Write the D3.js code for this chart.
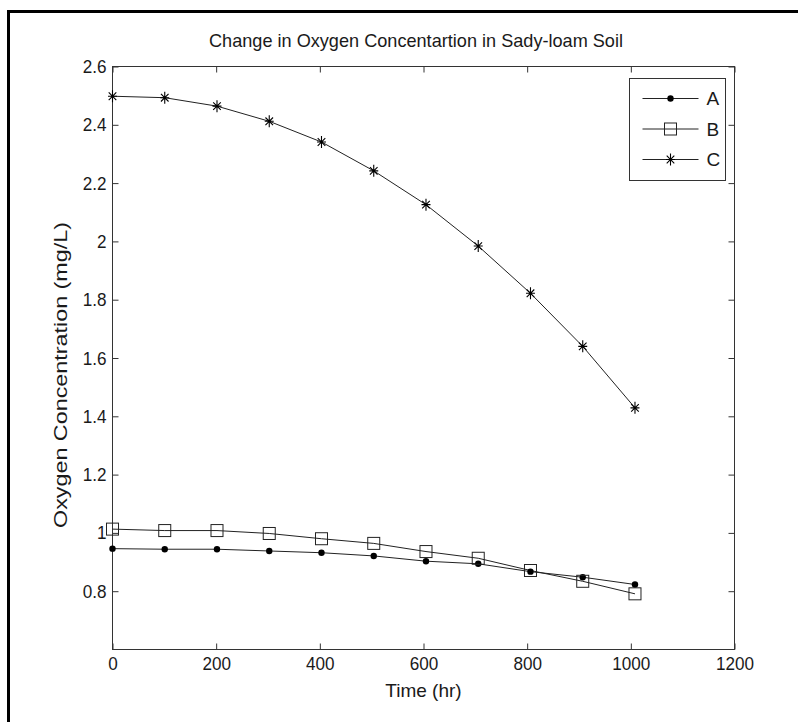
<!DOCTYPE html>
<html>
<head>
<meta charset="utf-8">
<script src="https://cdn.jsdelivr.net/npm/d3@7"></script>
<style>
  body { margin: 0; background: #fff; }
  text { font-family: "Liberation Sans", Arial, sans-serif; fill: #1a1a1a; }
</style>
</head>
<body>
<script>
// readings
var hours = [0, 100.8, 201.6, 302.4, 403.2, 504, 604.8, 705.6, 806.4, 907.2, 1008];
var soilA = [0.946, 0.944, 0.944, 0.938, 0.932, 0.921, 0.903, 0.894, 0.867, 0.848, 0.823];
var soilB = [1.013, 1.008, 1.008, 0.998, 0.980, 0.964, 0.936, 0.913, 0.871, 0.834, 0.791];
var soilC = [2.498, 2.493, 2.464, 2.412, 2.341, 2.242, 2.126, 1.984, 1.822, 1.640, 1.429];
var seriesNames = ["A", "B", "C"];
var xTicks = [0, 200, 400, 600, 800, 1000, 1200];
var yTicks = [0.8, 1, 1.2, 1.4, 1.6, 1.8, 2, 2.2, 2.4, 2.6];

var width = 798,
    height = 722;

var svg = d3.select("body").append("svg")
    .attr("width", width)
    .attr("height", height);

// frame of the pasted figure (only top and left show)
svg.append("path")
    .attr("d", "M8.5,722V11.5H798")
    .attr("fill", "none")
    .attr("stroke", "#000")
    .attr("stroke-width", 3);

var x = d3.scaleLinear().domain([0, 1200]).range([112.5, 734.5]);
var y = d3.scaleLinear().domain([0.6, 2.6]).range([649.5, 66.5]);

// squeeze text a bit, the original font is narrow
function squeeze(sel, k) {
  sel.each(function() {
    var w = this.getComputedTextLength();
    d3.select(this).attr("textLength", w * k).attr("lengthAdjust", "spacingAndGlyphs");
  });
}

var fmt = function(d) { return String(+d.toFixed(1)); };

var gx = svg.append("g")
    .attr("transform", "translate(0," + y(0.6) + ")")
    .call(d3.axisBottom(x).tickValues(xTicks).tickSize(-6).tickPadding(7).tickFormat(fmt));
var gxTop = svg.append("g")
    .attr("transform", "translate(0," + y(2.6) + ")")
    .call(d3.axisTop(x).tickValues(xTicks).tickSize(-6).tickFormat(""));
var gy = svg.append("g")
    .attr("transform", "translate(" + x(0) + ",0)")
    .call(d3.axisLeft(y).tickValues(yTicks).tickSize(-6).tickPadding(6).tickFormat(fmt));
var gyRight = svg.append("g")
    .attr("transform", "translate(" + x(1200) + ",0)")
    .call(d3.axisRight(y).tickValues(yTicks).tickSize(-6).tickFormat(""));

[gx, gxTop, gy, gyRight].forEach(function(g) {
  g.select(".domain").attr("stroke", "#333").attr("d", null);
  g.selectAll(".tick line").attr("stroke", "#333");
  g.selectAll("text").attr("font-family", null).attr("font-size", 19).attr("fill", "#1a1a1a");
});

svg.append("rect")
    .attr("x", x(0))
    .attr("y", y(2.6))
    .attr("width", x(1200) - x(0))
    .attr("height", y(0.6) - y(2.6))
    .attr("fill", "none")
    .attr("stroke", "#333");

squeeze(gx.selectAll("text"), 0.9);
squeeze(gy.selectAll("text"), 0.9);

// title and labels
svg.append("text")
    .attr("x", 416)
    .attr("y", 47)
    .attr("text-anchor", "middle")
    .attr("font-size", 19)
    .attr("textLength", 414)
    .attr("lengthAdjust", "spacingAndGlyphs")
    .text("Change in Oxygen Concentartion in Sady-loam Soil");

svg.append("text")
    .attr("x", x(600))
    .attr("y", 697)
    .attr("text-anchor", "middle")
    .attr("font-size", 19)
    .text("Time (hr)");

svg.append("text")
    .attr("transform", "translate(67,375) rotate(-90)")
    .attr("text-anchor", "middle")
    .attr("font-size", 19)
    .attr("textLength", 306)
    .attr("lengthAdjust", "spacingAndGlyphs")
    .text("Oxygen Concentration (mg/L)");

var line = d3.line()
    .x(function(d) { return x(d[0]); })
    .y(function(d) { return y(d[1]); });

var series = [soilA, soilB, soilC].map(function(vals) {
  return vals.map(function(v, i) { return [hours[i], v]; });
});

svg.selectAll(".series")
    .data(series).enter()
    .append("path")
    .attr("class", "series")
    .attr("d", line)
    .attr("fill", "none")
    .attr("stroke", "#222")
    .attr("stroke-width", 1);

// markers
function drawMarker(g, kind) {
  if (kind == 0) {
    g.append("circle").attr("r", 3.2).attr("fill", "#000");
  } else if (kind == 1) {
    g.append("rect")
      .attr("x", -6).attr("y", -6)
      .attr("width", 12).attr("height", 12)
      .attr("fill", "none").attr("stroke", "#222");
  } else {
    g.append("path")
      .attr("d", "M0,-6V6M-4.5,0H4.5M-3.8,-3.8L3.8,3.8M-3.8,3.8L3.8,-3.8")
      .attr("stroke", "#000").attr("stroke-width", 1.1).attr("fill", "none");
  }
}

series.forEach(function(pts, k) {
  svg.selectAll(".m" + k)
      .data(pts).enter()
      .append("g")
      .attr("class", "m" + k)
      .attr("transform", function(d) { return "translate(" + x(d[0]) + "," + y(d[1]) + ")"; })
      .each(function() { drawMarker(d3.select(this), k); });
});

// legend
var legend = svg.append("g")
    .attr("class", "legend")
    .attr("transform", "translate(629.5,78.5)");

legend.append("rect")
    .attr("width", 96)
    .attr("height", 102)
    .attr("fill", "#fff")
    .attr("stroke", "#333");

var items = legend.selectAll(".item")
    .data(seriesNames).enter()
    .append("g")
    .attr("class", "item")
    .attr("transform", function(d, i) { return "translate(0," + (20 + i * 30.5) + ")"; });

items.append("line")
    .attr("x1", 13).attr("x2", 69)
    .attr("stroke", "#222");

items.each(function(d, i) {
  var g = d3.select(this).append("g").attr("transform", "translate(41,0)");
  drawMarker(g, i);
});

items.append("text")
    .attr("x", 77)
    .attr("dy", "0.35em")
    .attr("font-size", 19)
    .text(function(d) { return d; });
</script>
</body>
</html>
